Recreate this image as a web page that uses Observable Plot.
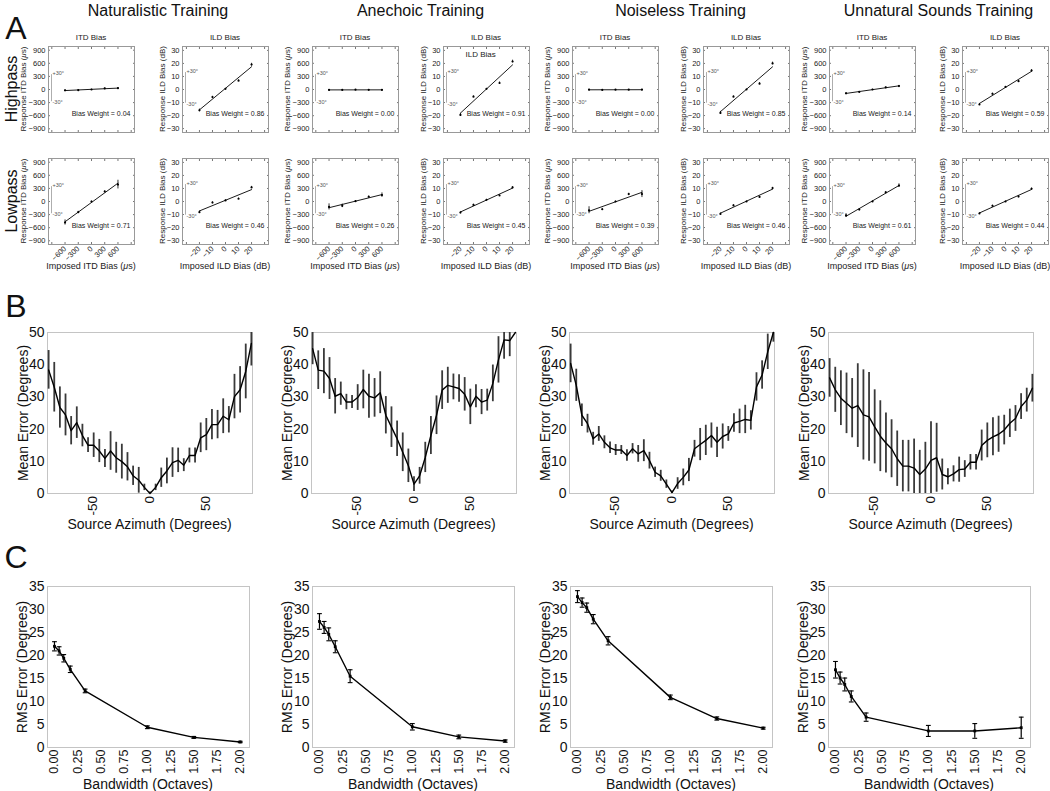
<!DOCTYPE html>
<html><head><meta charset="utf-8">
<script src="https://cdn.jsdelivr.net/npm/d3@7"></script>
<script src="https://cdn.jsdelivr.net/npm/@observablehq/plot@0.6"></script>
<style>
html,body{margin:0;padding:0;background:#fff;}
#fig{position:relative;width:1050px;height:791px;overflow:hidden;font-family:"Liberation Sans",Arial,Helvetica,sans-serif;color:#111;background:#fff;}
.abs{position:absolute;white-space:nowrap;line-height:1;}
.vt{position:absolute;white-space:nowrap;line-height:1;writing-mode:vertical-rl;}
#fig > svg{position:absolute;overflow:visible;background:transparent;}
</style></head><body><div id="fig"></div>
<script>
// ---------------- DATA ----------------
const trainings = ["Naturalistic Training", "Anechoic Training", "Noiseless Training", "Unnatural Sounds Training"];
const rowNames = ["Highpass", "Lowpass"];

// Panel A
const itdImposed = [-600, -300, 0, 300, 600];
const ildImposed = [-20, -10, 0, 10, 20];
const itdTicks = [-900, -600, -300, 0, 300, 600, 900];
const ildTicks = [-30, -20, -10, 0, 10, 20, 30];
const itdHigh = [[-20, -15, 0, 25, 30], [-10, -10, -5, -8, -10], [-5, -10, -5, -5, -5], [-87, -55, 0, 47, 79]];
const itdHighErr = [[10, 8, 5, 8, 10], [8, 6, 5, 6, 8], [8, 6, 5, 6, 8], [15, 10, 5, 10, 15]];
const ildHigh = [[-16, -5.8, 0.5, 6.8, 19.1], [-19.5, -5.5, 0.5, 5, 21.5], [-18, -5.5, 0, 4.5, 20], [-11.5, -3.3, 2, 6.4, 14.5]];
const ildHighErr = [[1, 0.6, 0.3, 0.6, 1], [1.2, 0.6, 0.3, 0.8, 1], [1.2, 0.6, 0.3, 0.8, 1], [0.8, 0.5, 0.3, 0.5, 0.8]];
const itdLow = [[-481, -245, 0, 229, 387], [-124, -100, 8, 109, 147], [-200, -178, 0, 170, 170], [-318, -186, 0, 210, 365]];
const itdLowErr = [[60, 20, 10, 20, 100], [70, 40, 10, 20, 50], [80, 20, 10, 20, 80], [40, 20, 10, 20, 40]];
const ildLow = [[-8.2, -0.8, 0.8, 2.1, 10.8], [-8.5, -2.6, 1.3, 4.6, 10.8], [-9.5, -3, 0, 3.5, 10.3], [-9.2, -3.3, 0, 3.8, 9.8]];
const ildLowErr = [[0.8, 0.6, 0.3, 0.6, 0.8], [0.6, 0.5, 0.3, 0.5, 0.6], [0.6, 0.5, 0.3, 0.5, 0.6], [0.6, 0.5, 0.3, 0.5, 0.6]];
const weightITDHigh = [0.04, 0.00, 0.00, 0.14];
const weightILDHigh = [0.86, 0.91, 0.85, 0.59];
const weightITDLow = [0.71, 0.26, 0.39, 0.61];
const weightILDLow = [0.46, 0.45, 0.46, 0.44];
const itdRange30 = {lo: -280, hi: 340};   // ITD spanned by -30..+30 deg
const ildRange30 = {lo: -10.5, hi: 13};   // ILD spanned by -30..+30 deg

// Panel B
const azimuth = [-90, -85, -80, -75, -70, -65, -60, -55, -50, -45, -40, -35, -30, -25, -20, -15, -10, -5, 0, 5, 10, 15, 20, 25, 30, 35, 40, 45, 50, 55, 60, 65, 70, 75, 80, 85, 90];
const azTicks = [-50, 0, 50];
const errTicksB = [0, 10, 20, 30, 40, 50];
const meanErr = [
  [38.4, 33, 26.7, 24.4, 19.5, 22, 18, 15, 15, 13.2, 10.9, 13.2, 11.1, 9.9, 8.3, 5.5, 4.1, 1.9, 0, 1.9, 4.9, 7, 9.6, 10.3, 8.8, 11.8, 11.8, 17.3, 18.3, 21.4, 21.4, 24, 22.9, 30.1, 32.2, 37.9, 46.6],
  [45, 38.3, 38, 35.7, 30.2, 31, 28.4, 28.4, 29.8, 32.3, 30.2, 29.7, 31.3, 24.3, 20.6, 17, 12.8, 8.6, 2.9, 5.5, 11.2, 18, 24.3, 32.1, 33.6, 33.1, 32.6, 30.8, 26.9, 30.2, 28.4, 29, 34.2, 41.5, 47.7, 47.5, 60],
  [40.4, 33.6, 24.3, 21.7, 17, 18.5, 15.9, 14.2, 13.5, 13.5, 11.8, 13.9, 12.3, 13.3, 10.2, 6.6, 5.5, 2.9, 0.3, 3.1, 5, 7.3, 13.9, 15.2, 16.5, 18, 15.9, 17.7, 18.5, 21.9, 22.4, 23, 22.7, 33.1, 36.8, 44, 51],
  [35.9, 32.2, 29.6, 28, 26.5, 27.3, 24.4, 23.8, 20.7, 17.8, 15.7, 13.9, 10.8, 8.5, 8.5, 7.9, 5.9, 7.6, 10.3, 11.1, 5.9, 5.2, 6.1, 7.4, 7.6, 9.7, 9.7, 14.9, 16.5, 17.6, 18.4, 19.7, 21.8, 23.3, 27, 29, 32.7]
];
const meanErrSE = [
  [6, 7.7, 6.4, 6.5, 4.4, 4.9, 3.5, 2.3, 3.8, 3.6, 2.8, 6, 4.8, 5.4, 4.4, 3, 4, 1, 0.5, 1, 3, 4, 4.6, 3.8, 2, 2.3, 2.3, 4.6, 5, 4.7, 4.4, 5.4, 4.1, 6.9, 7.2, 8.5, 7],
  [5, 6, 7, 6.5, 5.5, 3.6, 2.4, 2, 4, 6, 6.8, 6, 6.5, 5.8, 6.3, 5.5, 6, 5.2, 2.3, 2.6, 4.7, 5.9, 6, 6, 5.6, 4, 4.3, 5.2, 5.5, 3.6, 3.9, 3.4, 5.7, 7.2, 6, 5, 6],
  [6, 5, 3.5, 2.9, 2, 2.3, 2, 1.8, 1.7, 1.4, 1.8, 1.6, 2.6, 3.4, 2.6, 1.6, 1.7, 1.3, 0.5, 1.8, 2.6, 3.6, 2.6, 5, 4.7, 3.9, 4.7, 3.9, 2.3, 2.9, 3.8, 4.4, 3, 4.4, 4.4, 5.5, 4],
  [6, 7, 8.5, 9.4, 9.2, 13, 14, 13.8, 11.5, 11, 9.3, 9, 8.6, 8, 8, 9, 7.5, 8.3, 12, 10.7, 4.8, 2.5, 2.5, 3.9, 2.6, 2.4, 2.4, 4.8, 5.4, 5.9, 5.6, 4.6, 4.4, 4, 4, 3.7, 4.3]
];

// Panel C
const bandwidth = [0, 0.05, 0.1, 0.17, 0.33, 1, 1.5, 2];
const bwTicks = [0, 0.25, 0.5, 0.75, 1, 1.25, 1.5, 1.75, 2];
const rmsTicks = [0, 5, 10, 15, 20, 25, 30, 35];
const rmsErr = [
  [22, 21, 19.4, 17, 12.3, 4.4, 2.2, 1.2],
  [27.4, 26.1, 24.6, 21.9, 15.5, 4.5, 2.3, 1.4],
  [32.8, 31.5, 30.4, 27.9, 23.2, 10.9, 6.3, 4.2],
  [16.9, 15.1, 13.7, 11.1, 6.6, 3.6, 3.6, 4.3]
];
const rmsErrSE = [
  [1, 0.9, 0.8, 0.7, 0.4, 0.3, 0.2, 0.15],
  [1.7, 1.3, 1.4, 1.3, 1.4, 0.7, 0.4, 0.25],
  [1.3, 1, 1, 1, 0.9, 0.5, 0.35, 0.2],
  [1.8, 1.3, 1.4, 1.2, 0.9, 1.2, 1.6, 2.3]
];

// ---------------- LAYOUT ----------------
const FONT = '"Liberation Sans", Arial, Helvetica, sans-serif';
const fig = document.getElementById("fig");
const A = {itdLeft: [48, 312, 572, 829], ildLeft: [182, 443, 703, 962], top: [46, 158], w: 86, h: 86};
const B = {left: [47, 311, 569, 828], top: 332, w: 205, h: 161};
const C = {left: [47, 312, 570, 828], top: 586, w: 202, h: 161};

function place(svg, left, top) {
  svg.style.position = "absolute";
  svg.style.left = left + "px";
  svg.style.top = top + "px";
  fig.appendChild(svg);
}
function label(html, x, y, size, rotate = 0, color = "#111") {
  const d = document.createElement("div");
  d.className = "abs";
  d.innerHTML = html;
  d.style.left = x + "px";
  d.style.top = y + "px";
  d.style.fontSize = size + "px";
  d.style.color = color;
  d.style.transform = "translate(-50%,-50%)" + (rotate ? ` rotate(${rotate}deg)` : "");
  fig.appendChild(d);
}
// vertical tick label reading upward, its end at the top (x, y)
function vTick(txt, x, y, size) {
  const d = document.createElement("div");
  d.className = "vt";
  d.textContent = txt;
  d.style.left = x + "px";
  d.style.top = y + "px";
  d.style.fontSize = size + "px";
  d.style.transform = "translateX(-50%) rotate(180deg)";
  fig.appendChild(d);
}

const blank = () => "";

function biasPlot(kind, imposed, resp, err, weight, showX, extraTitle) {
  const isITD = kind === "ITD";
  const xDom = isITD ? [-975, 975] : [-33, 33];
  const yDom = isITD ? [-985, 985] : [-33, 33];
  const ticks = isITD ? itdTicks : ildTicks;
  const bar = isITD ? itdRange30 : ildRange30;
  const data = imposed.map((x, i) => ({x, y: resp[i], lo: resp[i] - err[i], hi: resp[i] + err[i]}));
  const ml = 28, mr = 3, mt = 3, mb = showX ? 26 : 3;
  const plot = Plot.plot({
    width: A.w + ml + mr, height: A.h + mt + mb,
    marginLeft: ml, marginRight: mr, marginTop: mt, marginBottom: mb,
    x: {domain: xDom}, y: {domain: yDom},
    style: {fontFamily: FONT, fontSize: "7.5px", background: "transparent", overflow: "visible", color: "#222"},
    marks: [
      Plot.axisY(ticks, {anchor: "left", tickSize: 0, tickPadding: 3, label: null, fontSize: 7.5}),
      Plot.axisY(ticks, {anchor: "left", tickSize: -2, tickFormat: blank, label: null, stroke: "#777"}),
      Plot.axisY(ticks, {anchor: "right", tickSize: -2, tickFormat: blank, label: null, stroke: "#777"}),
      Plot.axisX(ticks, {anchor: "top", tickSize: -2, tickFormat: blank, label: null, stroke: "#777"}),
      Plot.axisX(ticks, {anchor: "bottom", tickSize: -2, tickFormat: blank, label: null, stroke: "#777"}),
      showX ? Plot.axisX(imposed, {anchor: "bottom", tickSize: 0, tickPadding: 3, tickRotate: -45, label: null, fontSize: 7.5}) : null,
      Plot.frame({stroke: "#999"}),
      Plot.ruleX([bar], {x: () => xDom[0], y1: "lo", y2: "hi", dx: 3, stroke: "#999", strokeWidth: 0.8}),
      Plot.text([bar], {x: () => xDom[0], y: "hi", text: () => "+30°", dx: 4, dy: -1, textAnchor: "start", fontSize: 5.5, fill: "#555"}),
      Plot.text([bar], {x: () => xDom[0], y: "lo", text: () => "-30°", dx: 4, dy: 1, textAnchor: "start", fontSize: 5.5, fill: "#555"}),
      Plot.linearRegressionY(data, {x: "x", y: "y", ci: 0, stroke: "#000", strokeWidth: 0.9}),
      Plot.ruleX(data, {x: "x", y1: "lo", y2: "hi", stroke: "#000", strokeWidth: 0.8}),
      Plot.dot(data, {x: "x", y: "y", r: 1.1, fill: "#000"}),
      Plot.text([`Bias Weight = ${weight.toFixed(2)}`], {frameAnchor: "bottom-right", dx: -4, dy: -19, lineAnchor: "middle", textAnchor: "end", fontSize: 7, fill: "#222"}),
      extraTitle ? Plot.text([extraTitle], {frameAnchor: "top-left", dx: 22, dy: 8, textAnchor: "start", lineAnchor: "middle", fontSize: 8, fill: "#222"}) : null
    ]
  });
  return {plot, ml, mt};
}

// Panel A
label("A", 16, 28, 32);
rowNames.forEach((r, ri) => label(r, 12, A.top[ri] + A.h / 2, 16, -90));
trainings.forEach((t, ci) => {
  const cx = (A.itdLeft[ci] + A.ildLeft[ci] + A.w) / 2;
  label(t, cx, 11, 16);
  const sets = [
    ["ITD", A.itdLeft[ci], 0, itdImposed, itdHigh[ci], itdHighErr[ci], weightITDHigh[ci], false, null],
    ["ILD", A.ildLeft[ci], 0, ildImposed, ildHigh[ci], ildHighErr[ci], weightILDHigh[ci], false, ci === 1 ? "ILD Bias" : null],
    ["ITD", A.itdLeft[ci], 1, itdImposed, itdLow[ci], itdLowErr[ci], weightITDLow[ci], true, null],
    ["ILD", A.ildLeft[ci], 1, ildImposed, ildLow[ci], ildLowErr[ci], weightILDLow[ci], true, null]
  ];
  for (const [kind, left, row, imp, resp, err, w, showX, extra] of sets) {
    const {plot, ml, mt} = biasPlot(kind, imp, resp, err, w, showX, extra);
    place(plot, left - ml, A.top[row] - mt);
    const top = A.top[row];
    const unitLabel = kind === "ITD" ? " ITD Bias (<i>μ</i>s)" : " ILD Bias (dB)";
    label("Response" + unitLabel, left - (kind === "ITD" ? 24 : 19), top + A.h / 2, 8, -90, "#222");
    if (row === 0) label(kind + " Bias", left + A.w / 2, 38, 8, 0, "#222");
    if (showX) label("Imposed" + unitLabel, left + A.w / 2, 266, 9, 0, "#222");
  }
});

// Panel B
label("B", 16, 306, 32);
trainings.forEach((t, ci) => {
  const data = azimuth.map((x, i) => ({x, y: meanErr[ci][i], lo: meanErr[ci][i] - meanErrSE[ci][i], hi: meanErr[ci][i] + meanErrSE[ci][i]}));
  const ml = 40, mr = 4, mt = 10, mb = 40;
  const plot = Plot.plot({
    width: B.w + ml + mr, height: B.h + mt + mb,
    marginLeft: ml, marginRight: mr, marginTop: mt, marginBottom: mb,
    x: {domain: [-91, 91]}, y: {domain: [0, 50], clamp: true},
    style: {fontFamily: FONT, fontSize: "13px", background: "transparent", overflow: "visible", color: "#111"},
    marks: [
      Plot.frame({stroke: "#c4c4c4"}),
      Plot.axisY(errTicksB, {anchor: "left", tickSize: 0, tickPadding: 3, label: null, fontSize: 14}),
      Plot.axisX(azTicks, {anchor: "bottom", tickSize: 0, tickFormat: blank, label: null}),
      Plot.ruleX(data, {x: "x", y1: "lo", y2: "hi", stroke: "#3a3a3a", strokeWidth: 1.8}),
      Plot.line(data, {x: "x", y: "y", stroke: "#000", strokeWidth: 1.4})
    ]
  });
  place(plot, B.left[ci] - ml, B.top - mt);
  const sx = plot.scale("x");
  azTicks.forEach((v) => vTick(String(v), B.left[ci] - ml + sx.apply(v), B.top + B.h + 3, 13.5));
  label("Mean Error (Degrees)", B.left[ci] - 24, B.top + B.h / 2, 14, -90);
  label("Source Azimuth (Degrees)", B.left[ci] + B.w / 2, 524, 14);
});

// Panel C
label("C", 16, 557, 32);
const capSymbol = {draw(ctx, size) { const w = Math.sqrt(size / Math.PI); ctx.moveTo(-w, 0); ctx.lineTo(w, 0); }};
trainings.forEach((t, ci) => {
  const data = bandwidth.map((x, i) => ({x, y: rmsErr[ci][i], lo: rmsErr[ci][i] - rmsErrSE[ci][i], hi: rmsErr[ci][i] + rmsErrSE[ci][i]}));
  const ml = 40, mr = 4, mt = 10, mb = 40;
  const plot = Plot.plot({
    width: C.w + ml + mr, height: C.h + mt + mb,
    marginLeft: ml, marginRight: mr, marginTop: mt, marginBottom: mb,
    x: {domain: [-0.075, 2.1]}, y: {domain: [0, 35]},
    style: {fontFamily: FONT, fontSize: "13px", background: "transparent", overflow: "visible", color: "#111"},
    marks: [
      Plot.frame({stroke: "#c4c4c4"}),
      Plot.axisY(rmsTicks, {anchor: "left", tickSize: 0, tickPadding: 3, label: null, fontSize: 14}),
      Plot.axisX(bwTicks, {anchor: "bottom", tickSize: 0, tickPadding: 2, tickRotate: -90, tickFormat: d3.format(".2f"), label: null, fontSize: 12.5}),
      Plot.line(data, {x: "x", y: "y", stroke: "#000", strokeWidth: 1.4}),
      Plot.ruleX(data, {x: "x", y1: "lo", y2: "hi", stroke: "#000", strokeWidth: 1.2}),
      Plot.dot(data, {x: "x", y: "lo", symbol: capSymbol, r: 2.4, stroke: "#000", fill: "none", strokeWidth: 1.1}),
      Plot.dot(data, {x: "x", y: "hi", symbol: capSymbol, r: 2.4, stroke: "#000", fill: "none", strokeWidth: 1.1}),
      Plot.dot(data, {x: "x", y: "y", symbol: "square", r: 1.6, fill: "#000"})
    ]
  });
  place(plot, C.left[ci] - ml, C.top - mt);
  label("RMS Error (Degrees)", C.left[ci] - 25, C.top + C.h / 2, 14, -90);
  label("Bandwidth (Octaves)", C.left[ci] + C.w / 2, 784, 14);
});
</script></body></html>
